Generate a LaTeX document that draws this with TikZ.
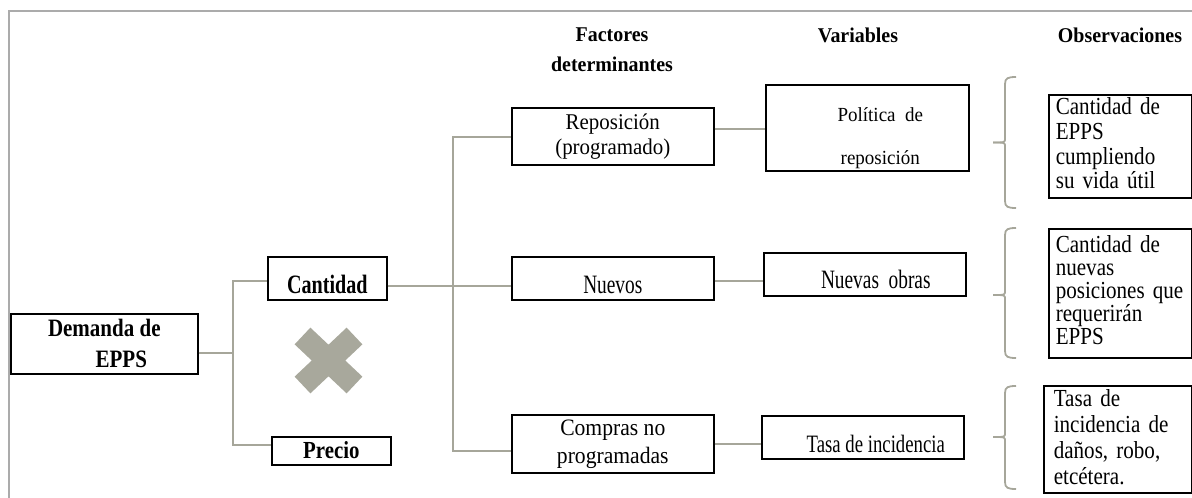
\documentclass[tikz,border=0pt]{standalone}
\usepackage{fontspec}
\setmainfont{Liberation Serif}
\newfontfamily\notefamily{Liberation Serif}[FakeStretch=0.86,WordSpace=0.6]
\definecolor{linkgray}{HTML}{A6A69A}
\definecolor{framegray}{HTML}{ABABAB}
\definecolor{crossgray}{HTML}{A8A89C}
% size, line spacing and horizontal squeeze of a text
\newcommand\boxfont[3]{\addfontfeatures{FakeStretch=#3}\fontsize{#1}{#2}\selectfont}
% observation notes: squeezed letters, tight word spacing
\newcommand\notefont[1]{\notefamily\fontsize{24.5}{#1}\selectfont}

\begin{document}
\begin{tikzpicture}[x=1pt,y=-1pt,
  box/.style={draw=black, line width=1.6pt, rectangle, inner xsep=2pt, inner ysep=0pt,
              anchor=north west, font=\boxfont{20}{25}{1}},
  obsbox/.style={box, align=left, font=\notefont{#1}},
  head/.style={inner sep=0pt, align=center, font=\bfseries\boxfont{21}{30}{0.95}},
  link/.style={draw=linkgray, line width=2pt},
  bracket/.style={draw=linkgray, line width=1.8pt},
  crossbar/.style={draw=crossgray, line width=23pt, line cap=butt}
]
\useasboundingbox (0,0) rectangle (1192,498);

% outer frame (left and top edges)
\draw[framegray, line width=2pt] (8.5,498) -- (8.5,10.5) -- (1192,10.5);

% column headings
\node[head, anchor=north] (hfac) at (612,28) {Factores\\determinantes};
\node[head, anchor=base] (hvar) at (858,42) {Variables};
\node[head, anchor=base] (hobs) at (1120,42) {Observaciones};

% root and first level
\node[box, minimum width=187pt, minimum height=60pt, align=center,
      font=\bfseries\boxfont{25}{31}{0.84}] (dem) at (10,313)
      {Demanda de\\\hspace*{34pt}EPPS};
\node[box, minimum width=119pt, text height=37pt, text depth=6pt,
      font=\bfseries\boxfont{26.5}{30}{0.76}] (cant) at (267,256) {Cantidad};
\node[box, minimum width=119pt, text height=22pt, text depth=6pt,
      font=\bfseries\boxfont{24.5}{30}{0.85}] (prec) at (271,436) {Precio};

% crossed-out mark between the two branches
\draw[crossbar] (302.5,336) -- (354.5,385);
\draw[crossbar] (302.5,385) -- (354.5,336);

% determining factors
\node[box, minimum width=202pt, minimum height=57pt, align=center,
      font=\boxfont{22.5}{25}{0.93}] (rep) at (511,107)
      {Reposición\\(programado)};
\node[box, minimum width=202pt, text height=37pt, text depth=6pt,
      font=\boxfont{26.5}{30}{0.73}] (nue) at (511,256) {Nuevos};
\node[box, minimum width=202pt, minimum height=58pt, align=center,
      font=\boxfont{23.5}{28}{0.92}] (com) at (511,414)
      {Compras no\\programadas};

% variables
\node[box, minimum width=203pt, minimum height=86pt, align=center,
      font=\boxfont{20}{43}{0.95}] (pol) at (765,84)
      {\rule{0pt}{35pt}\hspace*{26pt}Política~ de\\\hspace*{26pt}reposición};
\node[box, minimum width=202pt, text height=36pt, text depth=7pt,
      font=\boxfont{26.5}{30}{0.73}] (obr) at (763,252)
      {\hspace*{22pt}Nuevas~ obras};
\node[box, minimum width=202pt, text height=37pt, text depth=6pt,
      font=\boxfont{25}{30}{0.75}] (tas) at (761,415)
      {\hspace*{26pt}Tasa de incidencia};

% observations
\node[obsbox=24.7, inner xsep=7pt, minimum width=143pt, minimum height=103pt, text width=129pt]
      (ob1) at (1048,94)
      {Cantidad de\\EPPS\\cumpliendo\\su vida útil\rule[-6pt]{0pt}{6pt}};
\node[obsbox=23, inner xsep=7pt, minimum width=143pt, minimum height=129pt, text width=129pt]
      (ob2) at (1048,228)
      {Cantidad de\\nuevas\\posiciones~que\\requerirán\\EPPS\rule[-7pt]{0pt}{7pt}};
\node[obsbox=26, inner xsep=10pt, minimum width=148pt, minimum height=107pt, text width=128pt]
      (ob3) at (1043,385)
      {Tasa de\\incidencia de\\daños, robo,\\etcétera.\rule[-4pt]{0pt}{4pt}};

% tree connectors
\coordinate (j1) at (233,353);
\coordinate (j1t) at (233,281);
\coordinate (j1b) at (233,445);
\draw[link] (dem.east |- j1) -- (j1);
\draw[link] (cant.west |- j1t) -- (j1t) -- (j1b) -- (prec.west |- j1b);

\coordinate (j2) at (453,286);
\coordinate (j2t) at (453,137);
\coordinate (j2b) at (453,451);
\draw[link] (cant.east |- j2) -- (j2) -- (nue.west |- j2);
\draw[link] (rep.west |- j2t) -- (j2t) -- (j2b) -- (com.west |- j2b);

\draw[link] (rep.east |- 0,129) -- (pol.west |- 0,129);
\draw[link] (nue.east |- 0,281) -- (obr.west |- 0,281);
\draw[link] (com.east |- 0,444) -- (tas.west |- 0,444);

% brackets in front of the observations
\foreach \t/\m/\b in {77/142.5/208, 228/295/358, 386/437/489} {
  \draw[bracket] (1016,\t) .. controls (1008,\t) and (1005,\t+1) .. (1005,\t+7)
        -- (1005,\m-4) .. controls (1005,\m) .. (993,\m);
  \draw[bracket] (993,\m) .. controls (1005,\m) .. (1005,\m+4)
        -- (1005,\b-7) .. controls (1005,\b-1) and (1008,\b) .. (1016,\b);
}
\end{tikzpicture}
\end{document}
